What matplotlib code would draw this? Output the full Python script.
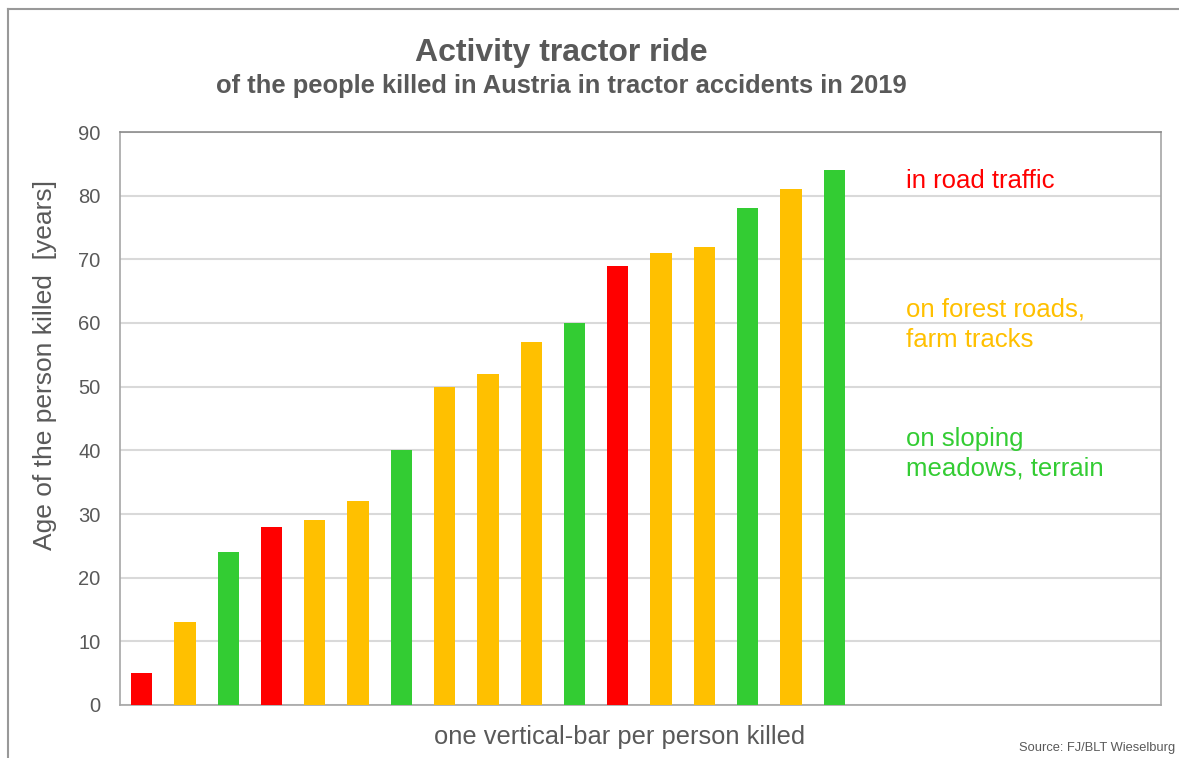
import matplotlib.pyplot as plt
from matplotlib.lines import Line2D

plt.rcParams["font.family"] = ["Liberation Sans", "DejaVu Sans"]

# ages of the people killed, one bar each
ages = [5, 13, 24, 28, 29, 32, 40, 50, 52, 57, 60, 69, 71, 72, 78, 81, 84]
# activity: road / forest / slope
activity = ["road", "forest", "slope", "road", "forest", "forest", "slope",
            "forest", "forest", "forest", "slope", "road", "forest", "forest",
            "slope", "forest", "slope"]
colors = {"road": "#FF0000", "forest": "#FFC000", "slope": "#33CC33"}
yticks = [0, 10, 20, 30, 40, 50, 60, 70, 80, 90]

W, H = 1179, 758
fig = plt.figure(figsize=(W / 100, H / 100), dpi=100)
ax = fig.add_axes([120 / W, 1 - 705 / H, (1161 - 120) / W, (705 - 132) / H])

ax.bar(range(len(ages)), ages, width=0.49,
       color=[colors[a] for a in activity], zorder=3)

ax.set_xlim(-0.5, 23.55)
ax.set_ylim(0, 90)
ax.set_yticks(yticks)
ax.set_xticks([])
ax.tick_params(axis="y", length=0, pad=14, labelsize=14.5, labelcolor="#595959")
ax.grid(axis="y", color="#D9D9D9", linewidth=1.5, zorder=0)
for s in ax.spines.values():
    s.set_color("#A6A6A6")
    s.set_linewidth(1.2)
ax.spines["top"].set_color("#8C8C8C")

# titles
fig.text(561 / W, 1 - 53 / H, "Activity tractor ride", ha="center", va="center",
         fontsize=23, fontweight="bold", color="#595959")
fig.text(561 / W, 1 - 86 / H, "of the people killed in Austria in tractor accidents in 2019",
         ha="center", va="center", fontsize=18.4, fontweight="bold", color="#595959")

# axis labels
fig.text(45 / W, 1 - 365 / H, "Age of the person killed  [years]", rotation=90,
         ha="center", va="center", fontsize=19, color="#595959")
fig.text(620 / W, 1 - 737 / H, "one vertical-bar per person killed",
         ha="center", va="center", fontsize=18.4, color="#595959")

# category notes
fig.text(906 / W, 1 - 181 / H, "in road traffic", ha="left", va="center",
         fontsize=18.5, color=colors["road"])
fig.text(906 / W, 1 - 325 / H, "on forest roads,\nfarm tracks", ha="left", va="center",
         fontsize=18.5, color=colors["forest"], linespacing=1.32)
fig.text(906 / W, 1 - 454 / H, "on sloping\nmeadows, terrain", ha="left", va="center",
         fontsize=18.5, color=colors["slope"], linespacing=1.3)

fig.text(1175 / W, 1 - 748 / H, "Source: FJ/BLT Wieselburg", ha="right", va="center",
         fontsize=9.3, color="#595959")

# outer frame
fig.add_artist(Line2D([8 / W, 8 / W], [0, 1 - 9 / H], color="#999999", lw=1.5))
fig.add_artist(Line2D([8 / W, 1], [1 - 9 / H, 1 - 9 / H], color="#999999", lw=1.5))

fig.savefig("out.png", dpi=100)
